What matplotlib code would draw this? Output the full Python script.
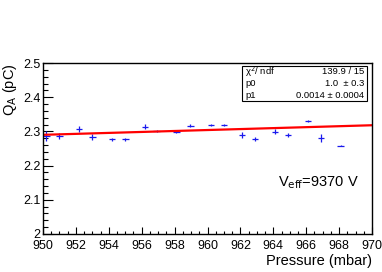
import matplotlib
matplotlib.use("Agg")
import matplotlib.pyplot as plt
import numpy as np
from matplotlib.ticker import MultipleLocator, FuncFormatter
from matplotlib.patches import Rectangle

plt.rcParams['font.family'] = ['Liberation Sans', 'DejaVu Sans']

# data
pressure = [950.2, 951.0, 952.2, 953.0, 954.2, 955.0, 956.2, 956.9, 958.1, 958.95,
            960.2, 961.0, 962.1, 962.9, 964.1, 964.9, 966.1, 966.9, 968.1]
charge = [2.287, 2.287, 2.307, 2.283, 2.277, 2.277, 2.314, 2.302, 2.298, 2.317,
          2.319, 2.318, 2.289, 2.278, 2.299, 2.290, 2.330, 2.281, 2.258]
charge_err = [0.015, 0.009, 0.009, 0.008, 0.004, 0.004, 0.007, 0.003, 0.003, 0.004,
              0.003, 0.003, 0.009, 0.007, 0.008, 0.006, 0.002, 0.012, 0.002]
pressure_err = [0.2] * len(pressure)

# fit result (line)
p0 = 0.96
p1 = 0.0014
stats_names = ["\u03c7$^2$/ ndf", "p0", "p1"]
stats_vals = ["139.9 / 15", "1.0  \u00b1 0.3", "0.0014 \u00b1 0.0004"]

fig = plt.figure(figsize=(3.82, 2.72), dpi=100)
ax = fig.add_axes([43/382, 1-234/272, (372-43)/382, (234-63)/272])

ax.errorbar(pressure, charge, xerr=pressure_err, yerr=charge_err, fmt='none',
            ecolor='#1a1aee', elinewidth=0.9, capsize=0)

xf = np.array([950, 970])
ax.plot(xf, p0 + p1 * xf, color='#ff0000', lw=1.6)

ax.set_xlim(950, 970)
ax.set_ylim(2.0, 2.5)
ax.xaxis.set_major_locator(MultipleLocator(2))
ax.xaxis.set_minor_locator(MultipleLocator(0.5))
ax.yaxis.set_major_locator(MultipleLocator(0.1))
ax.yaxis.set_minor_locator(MultipleLocator(0.02))
ax.yaxis.set_major_formatter(FuncFormatter(lambda v, p: '%g' % round(v, 2)))
ax.tick_params(which='both', direction='in', top=False, right=False, labelsize=9, pad=2)
ax.tick_params(which='major', axis='y', length=7, width=0.8)
ax.tick_params(which='minor', axis='y', length=3.5, width=0.8)
ax.tick_params(which='major', axis='x', length=5, width=0.8, pad=4.5)
ax.tick_params(which='minor', axis='x', length=2.5, width=0.8)
for s in ax.spines.values():
    s.set_linewidth(1.0)

ax.set_xlabel('Pressure (mbar)', fontsize=10.5, loc='right', labelpad=1.5)
fig.text(10/382, 1-63/272, 'Q$_{\\rm A}$ (pC)', rotation=90, ha='center', va='top',
         fontsize=10.5)

ax.text(0.96, 0.30, 'V$_{\\rm eff}$=9370 V', transform=ax.transAxes,
        ha='right', va='center', fontsize=10.5)

# stats box
bx0, by0, bx1, by1 = 242, 66, 367, 101
box = Rectangle((bx0/382, 1-by1/272), (bx1-bx0)/382, (by1-by0)/272,
                transform=fig.transFigure, facecolor='white', edgecolor='black', lw=0.8)
fig.add_artist(box)
for i, (n, v) in enumerate(zip(stats_names, stats_vals)):
    yy = 1 - (by0 + 6 + i * 11.5) / 272
    fig.text((bx0 + 3)/382, yy, n, ha='left', va='center', fontsize=6.8)
    fig.text((bx1 - 3)/382, yy, v, ha='right', va='center', fontsize=6.8)

fig.savefig('out.png', dpi=100)
